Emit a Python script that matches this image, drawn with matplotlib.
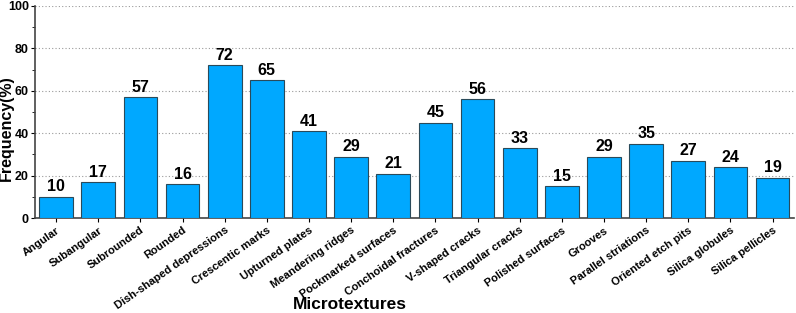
import matplotlib.pyplot as plt
import numpy as np

categories = ["Angular", "Subangular", "Subrounded", "Rounded", "Dish-shaped depressions",
              "Crescentic marks", "Upturned plates", "Meandering ridges", "Pockmarked surfaces",
              "Conchoidal fractures", "V-shaped cracks", "Triangular cracks", "Polished surfaces",
              "Grooves", "Parallel striations", "Oriented etch pits", "Silica globules",
              "Silica pellicles"]
freq = [10, 17, 57, 16, 72, 65, 41, 29, 21, 45, 56, 33, 15, 29, 35, 27, 24, 19]

plt.rcParams['font.family'] = ['Liberation Sans', 'DejaVu Sans']
plt.rcParams['font.weight'] = 'bold'

fig = plt.figure(figsize=(7.96, 3.13), dpi=100)
ax = fig.add_axes([0.044, 0.303, 0.953, 0.678])

x = np.arange(len(categories))
ax.bar(x, freq, width=0.8, color='#00A8FF', edgecolor='#2a4a5a', linewidth=0.8, zorder=3)
for xi, v in zip(x, freq):
    ax.text(xi, v + 1.2, str(v), ha='center', va='bottom', fontsize=11.5, fontweight='bold')

ax.set_xlim(-0.5, 17.5)
ax.set_ylim(0, 100)
ax.set_yticks([0, 20, 40, 60, 80, 100])
ax.set_yticks([10, 30, 50, 70, 90], minor=True)
ax.yaxis.grid(True, linestyle=(0, (1, 2)), color='#999999', linewidth=0.8, zorder=0)
ax.spines['top'].set_visible(False)
ax.spines['right'].set_visible(False)
for s in ['left', 'bottom']:
    ax.spines[s].set_linewidth(1.2)
    ax.spines[s].set_color('#444444')

ax.set_xticks(x)
ax.set_xticklabels(categories, rotation=35, ha='right', rotation_mode='anchor', fontsize=8, fontweight='bold')
ax.tick_params(axis='x', length=3, pad=2)
ax.tick_params(axis='y', which='major', length=3, labelsize=9, pad=1.5)
ax.tick_params(axis='y', which='minor', length=2)
for lbl in ax.get_yticklabels():
    lbl.set_fontweight('bold')

ax.set_ylabel("Frequency(%)", fontsize=11.5, fontweight='bold')
ax.yaxis.set_label_coords(-0.0275, 0.425)
ax.set_xlabel("Microtextures", fontsize=12.5, fontweight='bold')
ax.xaxis.set_label_coords(0.415, -0.405)
ax.xaxis.label.set_va('center')

fig.savefig("out.png", dpi=100)
